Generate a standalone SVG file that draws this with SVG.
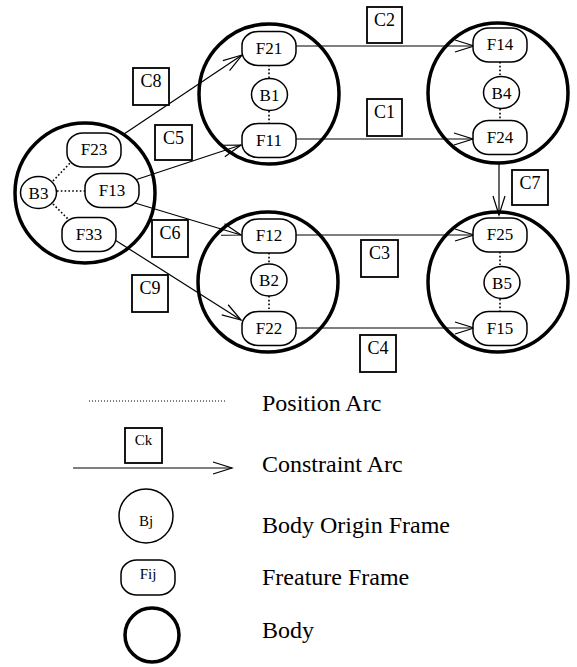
<svg xmlns="http://www.w3.org/2000/svg" width="577" height="667" viewBox="0 0 577 667" font-family="'Liberation Serif', 'Times New Roman', 'DejaVu Serif', serif">
  <defs>
    <style>
      .body { fill: none; stroke: #000; stroke-width: 3.5; }
      .origin { fill: #fff; stroke: #000; stroke-width: 1.5; }
      .feat { fill: #fff; stroke: #000; stroke-width: 1.5; }
      .box { fill: #fff; stroke: #000; stroke-width: 1.8; }
      .pos { fill: none; stroke: #000; stroke-width: 1.6; stroke-dasharray: 1.6 2.2; }
      .con { fill: none; stroke: #000; stroke-width: 1.2; marker-end: url(#vee); }
      .nl { font-size: 17px; text-anchor: middle; }
      .cl { font-size: 18px; text-anchor: middle; }
      .lg { font-size: 24px; }
      .sm { font-size: 15px; text-anchor: middle; }
    </style>
    <marker id="vee" markerUnits="userSpaceOnUse" markerWidth="24" markerHeight="16" viewBox="-21 -8 24 16" refX="0" refY="0" orient="auto">
      <path d="M-19,-6 L0,0 L-19,6" fill="none" stroke="#000" stroke-width="1.2"/>
    </marker>
    <rect id="fshape" x="-27" y="-17" width="54" height="34" rx="16" ry="14"/>
  </defs>

  <!-- bodies -->
  <g id="body-b3"><circle class="body" cx="85" cy="193" r="70"/></g>
  <g id="body-b1"><circle class="body" cx="269" cy="94" r="70"/></g>
  <g id="body-b4"><circle class="body" cx="498" cy="93" r="70"/></g>
  <g id="body-b2"><circle class="body" cx="268" cy="282" r="70"/></g>
  <g id="body-b5"><circle class="body" cx="498" cy="282" r="70"/></g>

  <!-- position arcs -->
  <g id="position-arcs">
    <line class="pos" x1="269" y1="65" x2="269" y2="78"/>
    <line class="pos" x1="269" y1="111" x2="269" y2="123"/>
    <line class="pos" x1="500" y1="62" x2="500" y2="76"/>
    <line class="pos" x1="500" y1="109" x2="500" y2="120"/>
    <line class="pos" x1="269" y1="253" x2="269" y2="264"/>
    <line class="pos" x1="269" y1="296" x2="269" y2="311"/>
    <line class="pos" x1="500" y1="252" x2="500" y2="266"/>
    <line class="pos" x1="500" y1="299" x2="500" y2="311"/>
    <line class="pos" x1="53" y1="181" x2="71" y2="162"/>
    <line class="pos" x1="57" y1="191" x2="86" y2="191"/>
    <line class="pos" x1="53" y1="204" x2="72" y2="223"/>
  </g>

  <!-- constraint arcs -->
  <g id="constraint-arcs">
    <line class="con" x1="124" y1="134" x2="242" y2="55"/>
    <line class="con" x1="135" y1="180" x2="241" y2="145"/>
    <line class="con" x1="295" y1="46" x2="474" y2="46"/>
    <line class="con" x1="295" y1="139" x2="473" y2="139"/>
    <line class="con" x1="499" y1="163" x2="499" y2="215"/>
    <line class="con" x1="135" y1="203" x2="241" y2="235"/>
    <line class="con" x1="115" y1="240" x2="241" y2="320"/>
    <line class="con" x1="295" y1="235" x2="474" y2="235"/>
    <line class="con" x1="295" y1="328" x2="474" y2="328"/>
  </g>

  <!-- constraint labels -->
  <g id="c8"><rect class="box" x="133" y="68" width="36" height="37"/><text class="cl" x="151" y="87">C8</text></g>
  <g id="c5"><rect class="box" x="155" y="125" width="37" height="35"/><text class="cl" x="173.5" y="144">C5</text></g>
  <g id="c2"><rect class="box" x="367" y="7" width="35" height="36"/><text class="cl" x="384.5" y="26">C2</text></g>
  <g id="c1"><rect class="box" x="367" y="99" width="35" height="37"/><text class="cl" x="384.5" y="118">C1</text></g>
  <g id="c7"><rect class="box" x="512" y="170" width="36" height="35"/><text class="cl" x="530" y="189">C7</text></g>
  <g id="c6"><rect class="box" x="152" y="220" width="36" height="37"/><text class="cl" x="170" y="239">C6</text></g>
  <g id="c9"><rect class="box" x="132" y="275" width="36" height="37"/><text class="cl" x="150" y="294">C9</text></g>
  <g id="c3"><rect class="box" x="361" y="240" width="37" height="37"/><text class="cl" x="379.5" y="259">C3</text></g>
  <g id="c4"><rect class="box" x="360" y="335" width="36" height="37"/><text class="cl" x="378" y="354">C4</text></g>

  <!-- body origin frames -->
  <g id="b1"><ellipse class="origin" cx="269.5" cy="94.5" rx="18" ry="16"/><text class="nl" x="269.5" y="100.5">B1</text></g>
  <g id="b3"><ellipse class="origin" cx="38.5" cy="192.5" rx="18" ry="16"/><text class="nl" x="38.5" y="198.5">B3</text></g>
  <g id="b2"><ellipse class="origin" cx="269" cy="280" rx="18" ry="16"/><text class="nl" x="269" y="286">B2</text></g>
  <g id="b4"><ellipse class="origin" cx="501.5" cy="92.5" rx="18" ry="16"/><text class="nl" x="501.5" y="98.5">B4</text></g>
  <g id="b5"><ellipse class="origin" cx="502" cy="282.5" rx="18" ry="16"/><text class="nl" x="502" y="288.5">B5</text></g>

  <!-- feature frames -->
  <g id="f21" transform="translate(269,48.5)"><use href="#fshape" class="feat"/><text class="nl" y="5">F21</text></g>
  <g id="f11" transform="translate(269,140.5)"><use href="#fshape" class="feat"/><text class="nl" y="5">F11</text></g>
  <g id="f23" transform="translate(94,150)"><use href="#fshape" class="feat"/><text class="nl" y="5">F23</text></g>
  <g id="f13" transform="translate(112,190.5)"><use href="#fshape" class="feat"/><text class="nl" y="5">F13</text></g>
  <g id="f33" transform="translate(89,234.5)"><use href="#fshape" class="feat"/><text class="nl" y="5">F33</text></g>
  <g id="f12" transform="translate(269,236)"><use href="#fshape" class="feat"/><text class="nl" y="5">F12</text></g>
  <g id="f22" transform="translate(269,328.5)"><use href="#fshape" class="feat"/><text class="nl" y="5">F22</text></g>
  <g id="f14" transform="translate(500,45)"><use href="#fshape" class="feat"/><text class="nl" y="5">F14</text></g>
  <g id="f24" transform="translate(500,137.5)"><use href="#fshape" class="feat"/><text class="nl" y="5">F24</text></g>
  <g id="f25" transform="translate(500,235)"><use href="#fshape" class="feat"/><text class="nl" y="5">F25</text></g>
  <g id="f15" transform="translate(500,328.5)"><use href="#fshape" class="feat"/><text class="nl" y="5">F15</text></g>

  <!-- legend -->
  <g id="legend">
    <line x1="89" y1="401" x2="227" y2="401" stroke="#000" stroke-width="1" stroke-dasharray="1 2"/>
    <text class="lg" x="262" y="411">Position Arc</text>

    <line class="con" x1="73" y1="468" x2="232" y2="468"/>
    <rect class="box" x="125" y="428" width="37" height="35"/>
    <text class="sm" x="143.5" y="445">Ck</text>
    <text class="lg" x="262" y="472">Constraint Arc</text>

    <circle class="origin" cx="146" cy="516" r="27"/>
    <text class="sm" x="146" y="526">Bj</text>
    <text class="lg" x="262" y="533">Body Origin Frame</text>

    <rect class="feat" x="121" y="560" width="54" height="35" rx="16" ry="14"/>
    <text class="sm" x="148" y="579">Fij</text>
    <text class="lg" x="262" y="585">Freature Frame</text>

    <circle class="body" cx="152" cy="635" r="27" stroke-width="4"/>
    <text class="lg" x="262" y="638">Body</text>
  </g>
</svg>
